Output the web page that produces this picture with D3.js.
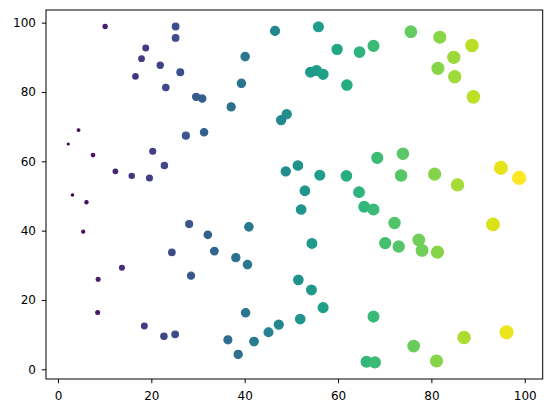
<!DOCTYPE html>
<html><head><meta charset="utf-8">
<script src="https://cdn.jsdelivr.net/npm/d3@7"></script>
<style>body{margin:0;background:#fff}svg{display:block}</style>
</head><body>
<script>
const xValues = [10.1,25.2,25.2,18.8,17.9,21.9,26.2,16.6,23.1,29.6,30.9,37.1,39.3,40.1,46.5,
  4.4,2.2,7.5,27.4,31.3,20.3,22.8,12.3,15.8,19.6,3.1,6.1,
  5.4,28.1,32.1,40.9,24.4,33.5,38.1,40.6,13.7,28.5,8.6,8.5,40.2,18.5,22.7,25.1,36.4,38.6,42.0,45.1,47.3,
  55.8,59.8,64.6,67.6,75.6,81.8,88.7,84.8,81.4,85.0,89.0,54.1,55.4,56.8,61.9,49.0,47.8,
  68.4,73.9,48.8,51.4,56.1,61.8,73.5,80.7,85.6,94.9,98.8,52.9,64.5,
  52.1,65.6,67.6,72.1,93.2,54.4,70.1,73.0,77.3,78.0,81.3,51.5,54.3,56.8,51.9,67.6,76.2,87.0,96.1,66.1,67.9,81.1];
const yValues = [98.9,98.9,95.6,92.7,89.6,87.7,85.7,84.5,81.3,78.6,78.1,75.7,82.5,90.2,97.6,
  69.0,65.0,61.8,67.4,68.4,62.9,58.8,57.1,55.8,55.2,50.3,48.2,
  39.7,41.9,38.8,41.1,33.7,34.1,32.2,30.2,29.3,27.0,26.0,16.4,16.3,12.5,9.5,10.1,8.5,4.3,8.0,10.7,12.9,
  98.8,92.3,91.5,93.3,97.4,95.8,93.4,90.0,86.8,84.4,78.6,85.7,86.2,85.1,82.0,73.6,71.9,
  61.0,62.2,57.1,58.8,56.0,55.8,55.9,56.3,53.2,58.1,55.2,51.5,51.1,
  46.1,46.9,46.1,42.2,41.8,36.3,36.4,35.4,37.3,34.3,33.8,25.8,22.9,17.8,14.5,15.2,6.7,9.2,10.7,2.2,2.0,2.4];
const xTicks = [0,20,40,60,80,100];
const yTicks = [0,20,40,60,80,100];

const W = 552, H = 413;
const L = 46, R = 542.7, T = 10, B = 379;
const svg = d3.select("body").append("svg").attr("width", W).attr("height", H);
const data = xValues.map((x,i)=>({x, y:yValues[i]}));
const x = d3.scaleLinear().domain([-2.57, 103.85]).range([L, R]);
const y = d3.scaleLinear().domain([-2.8, 103.65]).range([B, T]);
const color = d3.scaleSequential(d3.interpolateViridis).domain(d3.extent(xValues));
const r = d3.scaleSqrt().domain([0, 100]).range([0, 6.6]);

svg.append("g").selectAll("circle").data(data).join("circle")
  .attr("cx", d=>x(d.x)).attr("cy", d=>y(d.y)).attr("r", d=>r(d.x))
  .attr("fill", d=>color(d.x)).attr("stroke", d=>color(d.x)).attr("stroke-width", 1.2);

const fontFam = "DejaVu Sans, sans-serif";
const gx = svg.append("g").attr("transform", `translate(0,${B})`)
  .call(d3.axisBottom(x).tickValues(xTicks).tickSize(4.2).tickPadding(8).tickSizeOuter(0));
const gy = svg.append("g").attr("transform", `translate(${L},0)`)
  .call(d3.axisLeft(y).tickValues(yTicks).tickSize(4.2).tickPadding(5.8).tickSizeOuter(0));
[gx, gy].forEach(g => {
  g.select(".domain").remove();
  g.selectAll("text").attr("font-family", fontFam).attr("font-size", 12).attr("fill", "#000");
  g.selectAll("line").attr("stroke", "#000").attr("stroke-width", 1);
});
svg.append("rect").attr("x", L).attr("y", T).attr("width", R-L).attr("height", B-T)
  .attr("fill", "none").attr("stroke", "#000").attr("stroke-width", 1);
</script>
</body></html>
